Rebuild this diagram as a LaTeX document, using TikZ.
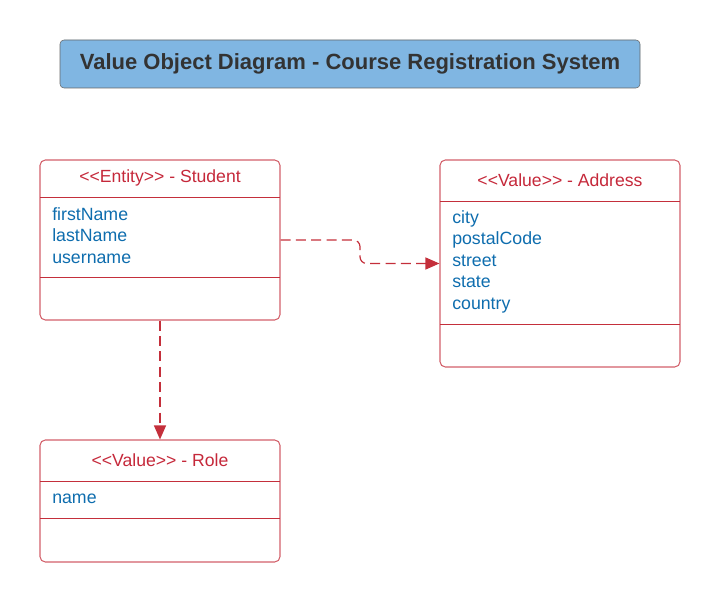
\documentclass[tikz,border=0pt]{standalone}
\usepackage{fontspec}
\setmainfont{Liberation Sans}
\usetikzlibrary{arrows.meta}
\definecolor{boxred}{HTML}{D2606A}
\definecolor{linered}{HTML}{C42F3B}
\definecolor{textred}{HTML}{C5283A}
\definecolor{attrblue}{HTML}{0E6DAE}
\definecolor{titlefill}{HTML}{80B6E2}
\definecolor{titletext}{HTML}{333333}
\tikzset{
  classbox/.style={draw=boxred, line width=0.8pt, rounded corners=4pt, rectangle, minimum width=180pt, inner sep=0pt},
  headtext/.style={text=textred, font=\fontsize{13.2}{15}\selectfont},
  attrtext/.style={text=attrblue, font=\fontsize{13.3}{16.1}\selectfont, align=left, anchor=west, inner sep=0pt},
  divider/.style={draw=linered, line width=0.7pt},
  link/.style={draw=linered, line width=0.9pt, dash pattern=on 7.5pt off 4pt, -{Triangle[length=10.5pt,width=9pt]}},
}
\begin{document}
\begin{tikzpicture}[x=0.75pt,y=-0.75pt]
\useasboundingbox (0,0) rectangle (720,602);
% title
\node[draw=black!60, fill=titlefill, rounded corners=3pt, minimum width=435pt, minimum height=36pt, text=titletext, font=\bfseries\fontsize{16.5}{18}\selectfont] (title) at (350,64) {Value Object Diagram - Course Registration System};
% classes
\node[classbox, minimum height=120pt] (student) at (160,240) {};
\node[headtext] (studenthead) at (160,178) {<{}<Entity>{}> - Student};
\draw[divider] (40,197) -- (280,197);
\node[attrtext] (studentattr) at (52,235.5) {firstName\\lastName\\username};
\draw[divider] (40,277) -- (280,277);
\node[classbox, minimum height=155.25pt] (address) at (560,263.5) {};
\node[headtext] (addresshead) at (560,180) {<{}<Value>{}> - Address};
\draw[divider] (440,201) -- (680,201);
\node[attrtext] (addressattr) at (452,261.5) {city\\postalCode\\street\\state\\country};
\draw[divider] (440,324) -- (680,324);
\node[classbox, minimum height=91.5pt] (role) at (160,501) {};
\node[headtext] (rolehead) at (160,460) {<{}<Value>{}> - Role};
\draw[divider] (40,481) -- (280,481);
\node[attrtext] (roleattr) at (52,498.5) {name};
\draw[divider] (40,518) -- (280,518);
% links
\coordinate (bend) at (360,240);
\draw[link, rounded corners=5pt] (student.east) -- (bend) |- (address.west);
\draw[link] (student.south) -- (role.north);
\end{tikzpicture}
\end{document}
